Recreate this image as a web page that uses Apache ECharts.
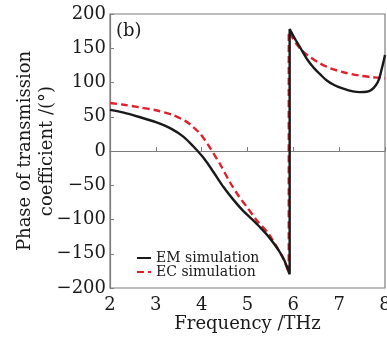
<!DOCTYPE html>
<html>
<head>
<meta charset="utf-8">
<script src="https://cdn.jsdelivr.net/npm/echarts@6/dist/echarts.min.js"></script>
<style>
  html, body { margin: 0; padding: 0; background: #fff; }
  #chart { width: 387px; height: 341px; }
</style>
</head>
<body>
<div id="chart"></div>
<script>
// Phase of the transmission coefficient vs frequency
const emFreq = [2.0, 2.3, 2.62, 3.0, 3.35, 3.6, 3.8, 4.04, 4.26, 4.48, 4.69, 4.9, 5.09, 5.27, 5.46, 5.68, 5.8, 5.92,
                5.92, 6.05, 6.15, 6.3, 6.44, 6.6, 6.73, 6.9, 7.09, 7.3, 7.45, 7.6, 7.7, 7.8, 7.87, 7.93, 7.97, 8.0];
const emPhase = [60, 56, 50, 42, 32, 21, 8, -10, -31, -53, -71, -87, -99, -111, -125, -145, -159, -180,
                 178, 162, 151, 134, 122, 111, 103, 96, 91, 87, 86, 86.5, 89, 96, 105, 120, 131, 140];

const ecFreq = [2.0, 2.3, 2.62, 3.0, 3.35, 3.64, 3.8, 3.97, 4.07, 4.18, 4.29, 4.4, 4.62, 4.8, 5.0, 5.2, 5.46, 5.75, 5.86, 5.9,
                5.9, 6.05, 6.2, 6.37, 6.58, 6.8, 7.09, 7.45, 7.7, 8.0];
const ecPhase = [70, 67.5, 64, 59.5, 53, 44, 36, 25, 16, 5, -7, -19, -46, -65, -83, -101, -121, -153, -170, -178,
                 174, 158, 146, 137, 128, 121, 115, 110, 108, 106];

const xTicks = [2, 3, 4, 5, 6, 7, 8];
const yTicks = [-200, -150, -100, -50, 0, 50, 100, 150, 200];

const seriesNames = ['EM simulation', 'EC simulation'];
const panelLabel = '(b)';
const xName = 'Frequency /THz';
const yName = 'Phase of transmission\ncoefficient /(°)';

const FONT = 'DejaVu Serif';
const AXIS_GRAY = '#7d7d7d';

const pairs = (xs, ys) => xs.map((x, i) => [x, ys[i]]);

const chart = echarts.init(document.getElementById('chart'), null, { renderer: 'canvas' });

chart.setOption({
  backgroundColor: '#ffffff',
  animation: false,
  title: {
    text: panelLabel,
    left: 111,
    top: 17,
    textStyle: { fontFamily: FONT, fontSize: 18, fontWeight: 'normal', color: '#1a1a1a' }
  },
  grid: {
    left: 110, right: 2, top: 14, bottom: 53,
    outerBoundsMode: 'none',
    containLabel: false,
    show: true, borderColor: AXIS_GRAY, borderWidth: 1.2, backgroundColor: '#fff'
  },
  legend: {
    data: seriesNames,
    orient: 'vertical',
    left: 136,
    top: 251,
    padding: 0,
    itemWidth: 14,
    itemHeight: 10,
    itemGap: 0,
    itemStyle: { opacity: 0 },
    textStyle: { fontFamily: FONT, fontSize: 14, color: '#1a1a1a', padding: 0 }
  },
  xAxis: {
    type: 'value',
    min: xTicks[0],
    max: xTicks[xTicks.length - 1],
    interval: 1,
    name: xName,
    nameLocation: 'middle',
    nameGap: 27,
    nameMoveOverlap: false,
    nameTextStyle: { fontFamily: FONT, fontSize: 18, color: '#1a1a1a' },
    axisLine: { lineStyle: { color: AXIS_GRAY, width: 1.2 } },
    axisTick: { inside: true, length: 4, lineStyle: { color: AXIS_GRAY } },
    axisLabel: { fontFamily: FONT, fontSize: 18, color: '#1a1a1a', margin: 8 },
    splitLine: { show: false }
  },
  yAxis: {
    type: 'value',
    min: yTicks[0],
    max: yTicks[yTicks.length - 1],
    interval: 50,
    name: yName,
    nameLocation: 'middle',
    nameRotate: 90,
    nameGap: 52,
    nameMoveOverlap: false,
    nameTextStyle: { fontFamily: FONT, fontSize: 18, color: '#1a1a1a', lineHeight: 22 },
    axisLine: { lineStyle: { color: AXIS_GRAY, width: 1.2 } },
    axisTick: { inside: true, length: 4, lineStyle: { color: AXIS_GRAY } },
    axisLabel: {
      fontFamily: FONT, fontSize: 18, color: '#1a1a1a', margin: 4,
      formatter: v => String(v).replace('-', '\u2212')
    },
    splitLine: { show: false }
  },
  series: [
    {
      name: seriesNames[0],
      type: 'line',
      data: pairs(emFreq, emPhase),
      symbol: 'none',
      smooth: 0.3,
      lineStyle: { color: '#1a1a1a', width: 2.4 },
      itemStyle: { color: '#1a1a1a' },
      z: 3
    },
    {
      name: seriesNames[1],
      type: 'line',
      data: pairs(ecFreq, ecPhase),
      symbol: 'none',
      smooth: 0.3,
      lineStyle: { color: '#e0212b', width: 2.4, type: [7, 4] },
      itemStyle: { color: '#e0212b' },
      z: 2
    }
  ]
});
</script>
</body>
</html>
